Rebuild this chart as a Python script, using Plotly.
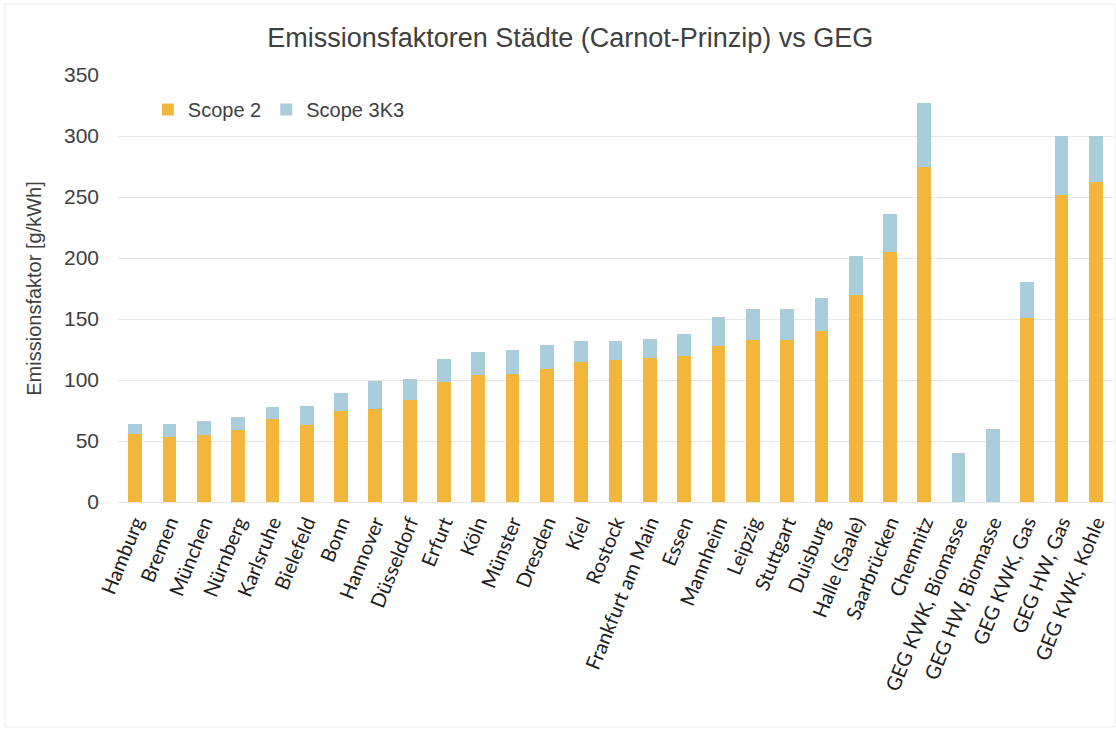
import plotly.graph_objects as go

# Emission factors per city (Carnot method) and GEG reference values, g/kWh
categories = [
    "Hamburg", "Bremen", "München", "Nürnberg", "Karlsruhe", "Bielefeld", "Bonn",
    "Hannover", "Düsseldorf", "Erfurt", "Köln", "Münster", "Dresden", "Kiel",
    "Rostock", "Frankfurt am Main", "Essen", "Mannheim", "Leipzig", "Stuttgart",
    "Duisburg", "Halle (Saale)", "Saarbrücken", "Chemnitz", "GEG KWK, Biomasse",
    "GEG HW, Biomasse", "GEG KWK, Gas", "GEG HW, Gas", "GEG KWK, Kohle",
]
scope2 = [56, 53, 55, 59, 68, 63, 75, 76, 84, 98, 104, 105, 109, 115,
          116, 118, 120, 128, 133, 133, 140, 170, 205, 275, 0,
          0, 151, 252, 262]
scope3k3 = [8, 11, 11, 11, 10, 16, 14, 23, 17, 19, 19, 20, 20, 17,
            16, 16, 18, 24, 25, 25, 27, 32, 31, 52, 40,
            60, 29, 48, 38]

ORANGE = "#F2B73A"
BLUE = "#AACDDC"
TEXT = "#404040"

W, H = 1116, 730
L, R, T, B = 118, 3, 75, 228
pw, ph = W - L - R, H - T - B

fig = go.Figure()
fig.add_bar(x=categories, y=scope2, name="Scope 2", marker_color=ORANGE,
            marker_line_width=0)
fig.add_bar(x=categories, y=scope3k3, name="Scope 3K3", marker_color=BLUE,
            marker_line_width=0)

# faint frame around the whole chart area
fig.add_shape(type="rect", xref="paper", yref="paper", layer="below",
              x0=(5 - L) / pw, x1=(W - 1 - L) / pw,
              y0=-(H - 3 - T - ph) / ph, y1=1 + (T - 4) / ph,
              line=dict(color="#EDEDED", width=1))

fig.update_layout(
    width=W, height=H,
    barmode="stack", bargap=0.6,
    paper_bgcolor="white", plot_bgcolor="white",
    margin=dict(l=L, r=R, t=T, b=B),
    title=dict(text="Emissionsfaktoren Städte (Carnot-Prinzip) vs GEG",
               x=0.511, xanchor="center", y=0.948, yanchor="middle",
               font=dict(family="Liberation Sans, Arial", size=27, color=TEXT)),
    font=dict(family="Liberation Sans, Arial", color=TEXT),
    legend=dict(orientation="h", x=0.03, y=0.919, xanchor="left", yanchor="middle",
                font=dict(size=20, color=TEXT), bgcolor="rgba(0,0,0,0)",
                itemwidth=30, traceorder="normal"),
    showlegend=True,
)
fig.update_yaxes(range=[0, 350], dtick=50, showgrid=True, gridcolor="#E6E6E6",
                 gridwidth=1, zeroline=False, showline=False,
                 tickfont=dict(size=21, color=TEXT), ticklabelstandoff=18,
                 title=dict(text="Emissionsfaktor [g/kWh]", standoff=16,
                            font=dict(size=20, color=TEXT)))
fig.update_xaxes(showgrid=False, showline=True, linecolor="#E6E6E6",
                 tickangle=-68, ticks="",
                 tickfont=dict(family="Lato, Carlito, Calibri", size=20, color="#202020"))

fig.write_html("out.html")
